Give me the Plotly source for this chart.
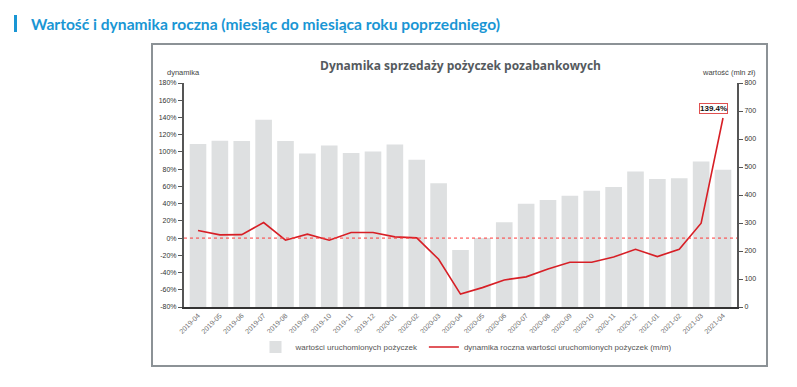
import plotly.graph_objects as go

months = ["2019-04", "2019-05", "2019-06", "2019-07", "2019-08", "2019-09", "2019-10",
          "2019-11", "2019-12", "2020-01", "2020-02", "2020-03", "2020-04", "2020-05",
          "2020-06", "2020-07", "2020-08", "2020-09", "2020-10", "2020-11", "2020-12",
          "2021-01", "2021-02", "2021-03", "2021-04"]
values_mln = [582, 594, 593, 669, 593, 548, 577, 550, 555, 580, 526, 442, 204, 246,
              303, 369, 382, 397, 415, 429, 484, 457, 460, 520, 490]
dynamics_pct = [8.7, 3.7, 4.0, 18.0, -2.5, 4.5, -2.5, 6.4, 6.4, 1.4, 0.2, -24.6, -65.0,
                -57.5, -48.6, -45.0, -36.0, -28.0, -28.0, -22.0, -13.0, -21.5, -13.0,
                17.3, 139.4]
left_ticks = list(range(-80, 181, 20))
right_ticks = list(range(0, 801, 100))

FONT = "Liberation Sans"
OFF = 8  # page body margin of the html page
W, H = 797, 387
L, T = 184 - OFF, 83 - OFF
R = W - (737 - OFF)
B = H - (307 - OFF)
PW, PH = W - L - R, H - T - B


def px(x):
    return (x - OFF - L) / PW


def py(y):
    return (H - B - (y - OFF)) / PH


fig = go.Figure()
fig.add_trace(go.Bar(
    x=months, y=values_mln, yaxis="y", name="wartości uruchomionych pożyczek",
    marker=dict(color="#dee0e1", line=dict(width=0)),
))
fig.add_trace(go.Scatter(
    x=months, y=dynamics_pct, yaxis="y2", mode="lines",
    name="dynamika roczna wartości uruchomionych pożyczek (m/m)",
    line=dict(color="#d71f26", width=1.6),
))

fig.add_shape(type="line", xref="paper", yref="y2", x0=0, x1=1, y0=0, y1=0,
              line=dict(color="#ff3a3a", width=1, dash="dot"), layer="above")
# frame
fig.add_shape(type="rect", xref="paper", yref="paper", x0=px(152), x1=px(767),
              y0=py(366), y1=py(44), line=dict(color="#8c9296", width=2), layer="below")
# blue marker of page heading
fig.add_shape(type="rect", xref="paper", yref="paper", x0=px(14), x1=px(17),
              y0=py(32), y1=py(15), line=dict(width=0), fillcolor="#1a96d4")

fig.add_annotation(text="<b>Wartość i dynamika roczna (miesiąc do miesiąca roku poprzedniego)</b>",
                   xref="paper", yref="paper", x=px(29), y=py(23.5), xanchor="left",
                   yanchor="middle", showarrow=False,
                   font=dict(family="Lato", size=15.6, color="#1a96d4"))
fig.add_annotation(text="<b>Dynamika sprzedaży pożyczek pozabankowych</b>",
                   xref="paper", yref="paper", x=0.5, y=py(66), xanchor="center",
                   yanchor="middle", showarrow=False,
                   font=dict(family="Open Sans", size=12, color="#555a5e"))
fig.add_annotation(text="dynamika", xref="paper", yref="paper", x=px(165), y=py(73),
                   xanchor="left", yanchor="middle", showarrow=False,
                   font=dict(family=FONT, size=7.5, color="#444"))
fig.add_annotation(text="wartość (mln zł)", xref="paper", yref="paper", x=px(758), y=py(73),
                   xanchor="right", yanchor="middle", showarrow=False,
                   font=dict(family=FONT, size=7.5, color="#444"))
fig.add_annotation(text=f"<b>{dynamics_pct[-1]:.1f}%</b>",
                   x=months[-1], y=dynamics_pct[-1], xref="x", yref="y2",
                   xanchor="center", yanchor="bottom", showarrow=False,
                   xshift=-10, yshift=4, bgcolor="white", bordercolor="#e05050",
                   borderwidth=1, borderpad=0,
                   font=dict(family=FONT, size=8, color="#111"))

fig.update_layout(
    width=W, height=H,
    margin=dict(l=L, r=R, t=T, b=B),
    paper_bgcolor="white", plot_bgcolor="white",
    bargap=0.24,
    showlegend=True,
    legend=dict(orientation="h", x=px(466), xanchor="center", y=py(347), yanchor="middle",
                font=dict(family=FONT, size=8, color="#555"), itemwidth=30,
                traceorder="normal"),
    xaxis=dict(type="category", range=[-0.64, len(months) - 0.36], tickangle=-45,
               showgrid=False, showline=True, linecolor="#333", linewidth=1.5,
               ticks="", tickfont=dict(family=FONT, size=7, color="#6e6e6e")),
    yaxis=dict(range=[0, 800], tickvals=right_ticks, side="right",
               showgrid=False, zeroline=False, showline=True, linecolor="#555",
               linewidth=2, ticks="outside", ticklen=4, tickcolor="#555", tickwidth=1,
               tickfont=dict(family=FONT, size=7, color="#333")),
    yaxis2=dict(range=[-80, 180], tickvals=left_ticks, overlaying="y", side="left",
                ticktext=[f"{v}%" for v in left_ticks], showgrid=False, zeroline=False,
                showline=True, linecolor="#555", linewidth=2, ticks="outside",
                ticklen=4, tickcolor="#555", tickwidth=1,
                tickfont=dict(family=FONT, size=7, color="#333")),
)

fig.write_html("out.html")
